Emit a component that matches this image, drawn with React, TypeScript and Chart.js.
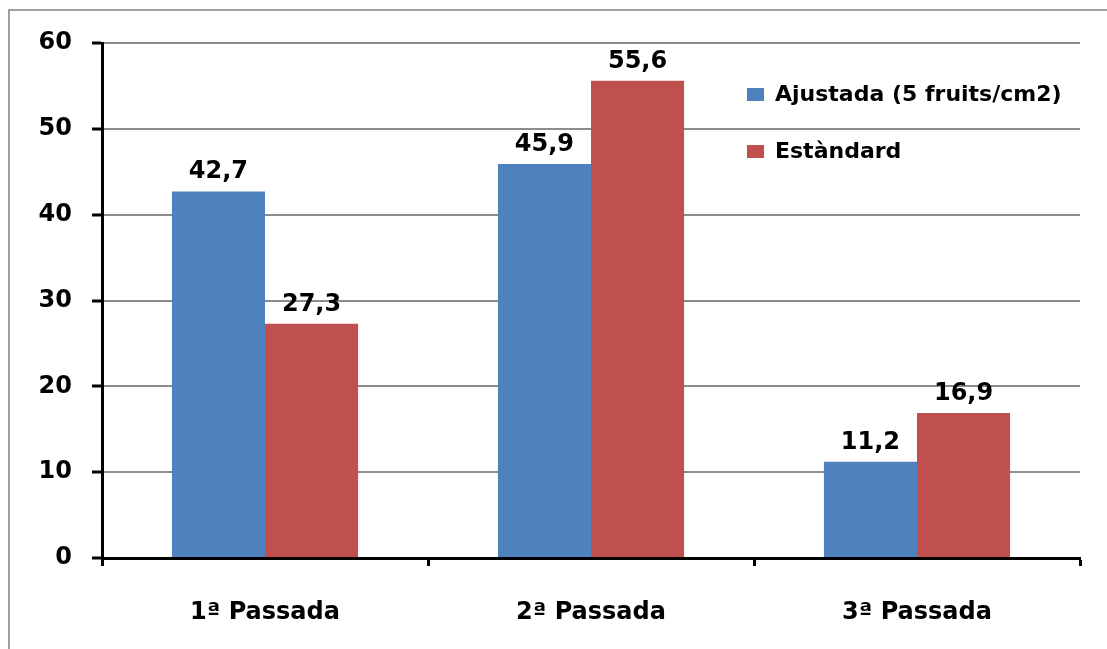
import React, { useEffect, useRef } from "react";
import { Chart, registerables } from "chart.js";

Chart.register(...registerables);

const categories = ["1ª Passada", "2ª Passada", "3ª Passada"];
const seriesNames = ["Ajustada (5 fruits/cm2)", "Estàndard"];
const ajustada = [42.7, 45.9, 11.2];
const estandard = [27.3, 55.6, 16.9];
const seriesColors = ["#4F81BD", "#C0504D"];
const yMin = 0;
const yMax = 60;
const yStep = 10;

const FONT = "'DejaVu Sans', Verdana, sans-serif";

const framePlugin = {
  id: "frame",
  beforeDraw(chart: any) {
    const ctx = chart.ctx;
    ctx.save();
    ctx.fillStyle = "#fff";
    ctx.fillRect(0, 0, chart.width, chart.height);
    ctx.fillStyle = "#A0A0A0";
    ctx.fillRect(8, 9, chart.width - 8, 2);
    ctx.fillRect(8, 9, 2, chart.height - 9);
    ctx.restore();
  },
};

const dataLabelPlugin = {
  id: "dataLabels",
  afterDatasetsDraw(chart: any) {
    const ctx = chart.ctx;
    ctx.save();
    ctx.font = `bold 24px ${FONT}`;
    ctx.fillStyle = "#000";
    ctx.textAlign = "center";
    ctx.textBaseline = "alphabetic";
    chart.data.datasets.forEach((ds: any, i: number) => {
      const meta = chart.getDatasetMeta(i);
      meta.data.forEach((bar: any, j: number) => {
        const v = ds.data[j] as number;
        const txt = v.toFixed(1).replace(".", ",");
        ctx.fillText(txt, bar.x, bar.y - 13);
      });
    });
    ctx.restore();
  },
};

const legendPlugin = {
  id: "insideLegend",
  afterDraw(chart: any) {
    const ctx = chart.ctx;
    const area = chart.chartArea;
    ctx.save();
    ctx.font = `bold 22px ${FONT}`;
    ctx.textBaseline = "middle";
    ctx.textAlign = "left";
    const x0 = area.right - 333;
    const ys = [area.top + 51, area.top + 108];
    chart.data.datasets.forEach((ds: any, i: number) => {
      const cy = ys[i];
      ctx.fillStyle = ds.backgroundColor;
      ctx.fillRect(x0, cy - 6, 17, 13);
      ctx.fillStyle = "#000";
      ctx.fillText(ds.label, x0 + 28, cy + 1);
    });
    ctx.restore();
  },
};

export default function App() {
  const canvasRef = useRef<HTMLCanvasElement>(null);

  useEffect(() => {
    document.body.style.margin = "0";
    document.body.style.overflow = "hidden";
    if (!canvasRef.current) return;
    const chart = new Chart(canvasRef.current, {
      type: "bar",
      data: {
        labels: categories,
        datasets: [
          {
            label: seriesNames[0],
            data: ajustada,
            backgroundColor: seriesColors[0],
            borderWidth: 0,
            categoryPercentage: 0.571,
            barPercentage: 1,
          },
          {
            label: seriesNames[1],
            data: estandard,
            backgroundColor: seriesColors[1],
            borderWidth: 0,
            categoryPercentage: 0.571,
            barPercentage: 1,
          },
        ],
      },
      options: {
        responsive: false,
        animation: false,
        layout: { padding: { left: 0, top: 43, right: 27, bottom: 0 } },
        plugins: {
          legend: { display: false },
          tooltip: { enabled: false },
          title: { display: false },
        },
        scales: {
          x: {
            offset: true,
            afterFit: (scale: any) => {
              scale.height = 91;
            },
            grid: {
              offset: true,
              drawOnChartArea: false,
              drawTicks: true,
              tickLength: 8,
              tickColor: "#000",
              tickWidth: 3,
            },
            border: { display: true, color: "#000", width: 3 },
            ticks: {
              color: "#000",
              padding: 32,
              font: { family: FONT, size: 24, weight: "bold" },
            },
          },
          y: {
            min: yMin,
            max: yMax,
            afterFit: (scale: any) => {
              scale.width = 102;
            },
            ticks: {
              stepSize: yStep,
              color: "#000",
              padding: 20,
              font: { family: FONT, size: 24, weight: "bold" },
            },
            grid: {
              color: "#8C8C8C",
              lineWidth: 2,
              drawTicks: true,
              tickLength: 10,
              tickColor: "#000",
              tickWidth: 3,
            },
            border: { display: true, color: "#000", width: 3 },
          },
        },
      },
      plugins: [framePlugin, dataLabelPlugin, legendPlugin],
    });
    return () => chart.destroy();
  }, []);

  return (
    <div
      style={{
        position: "fixed",
        left: 0,
        top: 0,
        width: 1107,
        height: 649,
        overflow: "hidden",
        background: "#fff",
      }}
    >
      <canvas
        ref={canvasRef}
        width={1107}
        height={649}
        style={{ position: "absolute", left: 0, top: 0, display: "block" }}
      />
    </div>
  );
}
